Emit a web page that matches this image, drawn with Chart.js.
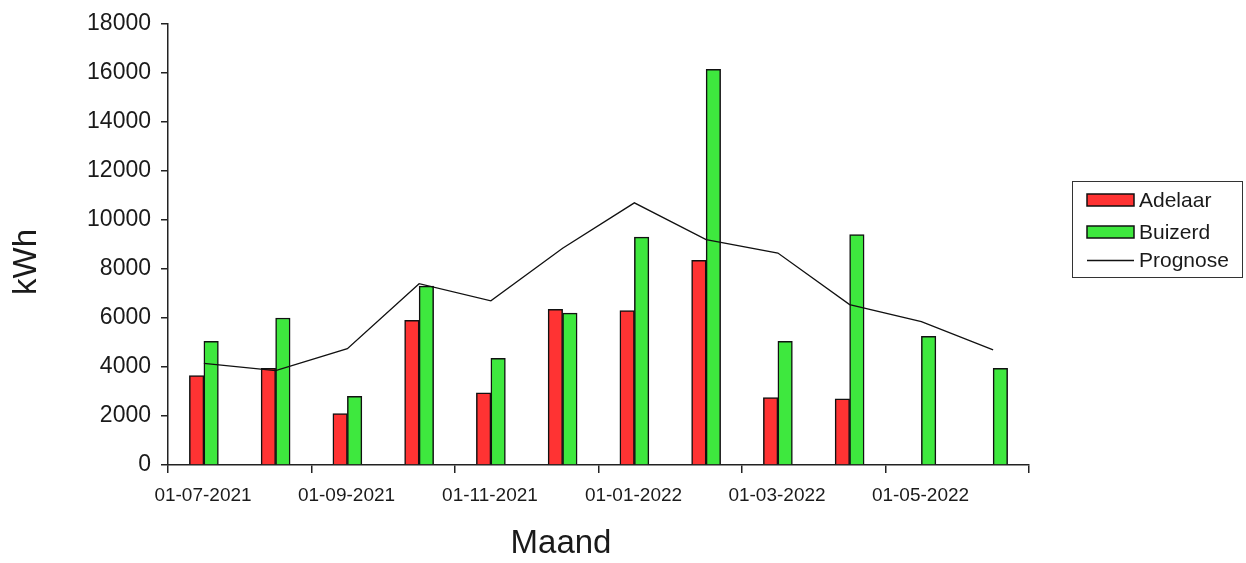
<!DOCTYPE html>
<html>
<head>
<meta charset="utf-8">
<script src="https://cdn.jsdelivr.net/npm/chart.js@4.4.1/dist/chart.umd.min.js"></script>
<style>
html,body{margin:0;padding:0;background:#ffffff;}
#wrap{width:1246px;height:563px;}
</style>
</head>
<body>
<div id="wrap"><canvas id="c" width="1246" height="563"></canvas></div>
<script>
// ---- data ----
const categories = ['07-2021','08-2021','09-2021','10-2021','11-2021','12-2021','01-2022','02-2022','03-2022','04-2022','05-2022','06-2022'];
const adelaar  = [3650, 3950, 2100, 5900, 2950, 6350, 6300, 8350, 2750, 2700, null, null];
const buizerd  = [5050, 6000, 2800, 7300, 4350, 6200, 9300, 16150, 5050, 9400, 5250, 3950];
const prognose = [4150, 3850, 4750, 7400, 6700, 8850, 10700, 9200, 8650, 6550, 5850, 4700];
const dateTickLabels = ['01-07-2021','01-09-2021','01-11-2021','01-01-2022','01-03-2022','01-05-2022',''];
const dateTickPositions = [0, 2, 4, 6, 8, 10, 12];   // month boundaries (months since 01-07-2021)
const yTickValues = [0,2000,4000,6000,8000,10000,12000,14000,16000,18000];
const seriesNames = ['Adelaar','Buizerd','Prognose'];
const xTitle = 'Maand';
const yTitle = 'kWh';

const FONT = '"Liberation Sans", Arial, sans-serif';
const TEXT = '#1a1a1a';
const AXIS = '#222222';
const RED = '#ff3333';
const GREEN = '#3ee83e';

const decorations = {
  id: 'decorations',
  afterDraw(chart) {
    const ctx = chart.ctx;
    ctx.save();
    ctx.fillStyle = TEXT;
    ctx.textAlign = 'center';
    ctx.textBaseline = 'middle';
    ctx.font = '33px ' + FONT;
    ctx.fillText(xTitle, 561, 544);
    ctx.save();
    ctx.translate(27, 262);
    ctx.rotate(-Math.PI / 2);
    ctx.fillText(yTitle, 0, 0);
    ctx.restore();

    // legend
    ctx.strokeStyle = '#333333';
    ctx.lineWidth = 1;
    ctx.strokeRect(1072.5, 181.5, 170, 96);
    const rows = [200, 232, 260];
    const ds = chart.data.datasets;
    ctx.font = '21px ' + FONT;
    ctx.textAlign = 'left';
    for (let i = 0; i < ds.length; i++) {
      const y = rows[i];
      if (ds[i].type === 'line') {
        ctx.strokeStyle = ds[i].borderColor;
        ctx.lineWidth = 1.5;
        ctx.beginPath();
        ctx.moveTo(1087, y + 0.5);
        ctx.lineTo(1134, y + 0.5);
        ctx.stroke();
      } else {
        ctx.fillStyle = ds[i].backgroundColor;
        ctx.fillRect(1087, y - 6, 47, 12);
        ctx.strokeStyle = '#111111';
        ctx.lineWidth = 1.5;
        ctx.strokeRect(1087, y - 6, 47, 12);
      }
      ctx.fillStyle = TEXT;
      ctx.fillText(ds[i].label, 1139, y + 1);
    }
    ctx.restore();
  }
};

new Chart(document.getElementById('c'), {
  type: 'bar',
  data: {
    labels: categories,
    datasets: [
      { label: seriesNames[0], data: adelaar, backgroundColor: RED, borderColor: '#111111', borderWidth: 1.5, barThickness: 14.5, order: 2, xAxisID: 'x', yAxisID: 'y' },
      { label: seriesNames[1], data: buizerd, backgroundColor: GREEN, borderColor: '#111111', borderWidth: 1.5, barThickness: 14.5, order: 2, xAxisID: 'x', yAxisID: 'y' },
      { type: 'line', label: seriesNames[2], data: prognose, borderColor: '#111111', borderWidth: 1.3, pointRadius: 0, tension: 0, fill: false, order: 0, xAxisID: 'x', yAxisID: 'y' }
    ]
  },
  options: {
    responsive: false,
    devicePixelRatio: 1,
    animation: false,
    layout: { padding: { left: 0, top: 24, right: 217, bottom: 0 } },
    plugins: { legend: { display: false }, tooltip: { enabled: false } },
    scales: {
      x: { type: 'category', display: false, offset: true },
      x2: {
        type: 'linear', position: 'bottom', min: 0, max: 12, offset: false,
        afterFit: s => { s.height = 98; },
        afterBuildTicks: s => { s.ticks = dateTickPositions.map(v => ({ value: v })); },
        grid: { offset: false, drawOnChartArea: false, drawTicks: true, tickLength: 8, color: AXIS, lineWidth: 1.5 },
        border: { display: true, color: AXIS, width: 1.5 },
        ticks: { autoSkip: false, maxRotation: 0, minRotation: 0, padding: 11, labelOffset: 35, color: TEXT, align: 'center', font: { family: FONT, size: 19 },
          callback: (v, i) => dateTickLabels[i] }
      },
      y: {
        type: 'linear', position: 'left', min: 0, max: 18000,
        afterFit: s => { s.width = 168; },
        afterBuildTicks: s => { s.ticks = yTickValues.map(v => ({ value: v })); },
        grid: { drawOnChartArea: false, drawTicks: true, tickLength: 7, color: AXIS, lineWidth: 1.5 },
        border: { display: true, color: AXIS, width: 1.5 },
        ticks: { padding: 10, color: TEXT, font: { family: FONT, size: 23 }, callback: v => String(v) }
      }
    }
  },
  plugins: [decorations]
});
</script>
</body>
</html>
